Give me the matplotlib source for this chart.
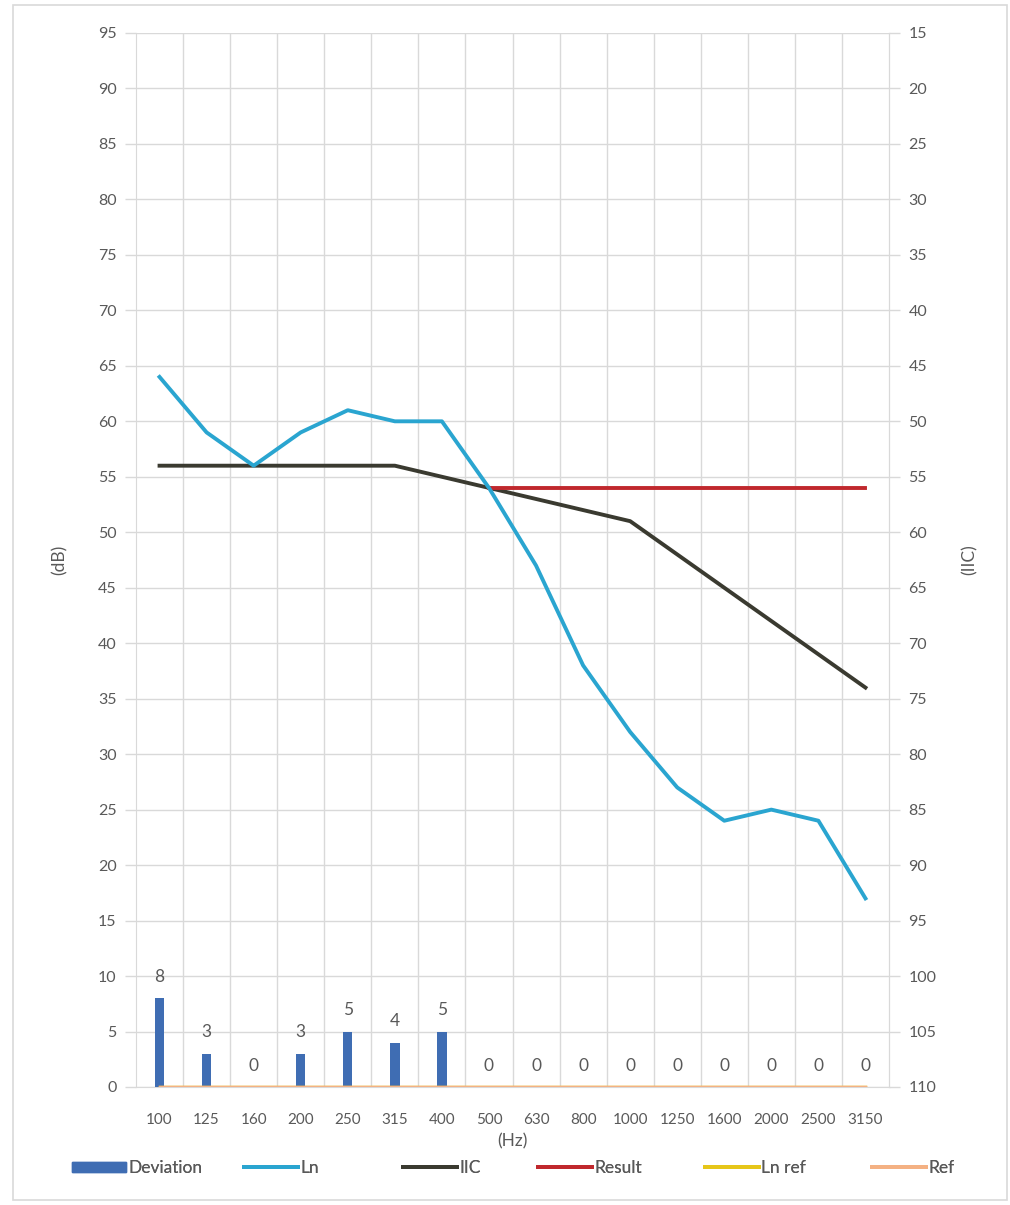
import matplotlib
matplotlib.use("Agg")
import matplotlib.pyplot as plt
from matplotlib.patches import Rectangle
from matplotlib.lines import Line2D
from matplotlib.patches import Patch
import numpy as np

plt.rcParams['font.family'] = ['Lato', 'DejaVu Sans']

freqs = ["100", "125", "160", "200", "250", "315", "400", "500", "630", "800",
         "1000", "1250", "1600", "2000", "2500", "3150"]
deviation = [8, 3, 0, 3, 5, 4, 5, 0, 0, 0, 0, 0, 0, 0, 0, 0]
ln = [64, 59, 56, 59, 61, 60, 60, 54, 47, 38, 32, 27, 24, 25, 24, 17]
iic = [56, 56, 56, 56, 56, 56, 55, 54, 53, 52, 51, 48, 45, 42, 39, 36]
result = [None] * 7 + [54] * 9
ln_ref = [0] * 16
ref = [0] * 16
left_ticks = list(range(0, 100, 5))
right_ticks = list(range(15, 115, 5))

TXT = "#595959"
GRID = "#D9D9D9"
C_DEV = "#3F6DB3"
C_LN = "#2AA5D0"
C_IIC = "#3A3A30"
C_RES = "#C0282D"
C_LNREF = "#E6C619"
C_REF = "#F4B183"

fig = plt.figure(figsize=(10.10, 12.05), dpi=100)
fig.patches.append(Rectangle((13 / 1010, 1 - 1200 / 1205), (1007 - 13) / 1010, (1200 - 5) / 1205,
                             transform=fig.transFigure, fill=False, edgecolor="#D9D9D9", lw=1.2))
ax = fig.add_axes([136 / 1010, 1 - 1087 / 1205, (889 - 136) / 1010, (1087 - 33) / 1205])
x = np.arange(len(freqs))

ax.set_xlim(-0.5, len(freqs) - 0.5)
ax.set_ylim(0, 95)
ax.set_yticks(left_ticks)
ax.set_xticks(x)
ax.set_xticklabels(freqs)
for b in np.arange(0.5, len(freqs) - 0.5, 1):
    ax.axvline(b, color=GRID, lw=1, zorder=0)
ax.yaxis.grid(True, color=GRID, lw=1, zorder=0)
ax.set_axisbelow(True)
ax.spines["top"].set_visible(False)
for s in ["left", "right", "bottom"]:
    ax.spines[s].set_color(GRID)
ax.tick_params(axis="y", colors=GRID, labelcolor=TXT, labelsize=11.5, length=8, width=1, pad=6)
ax.tick_params(axis="x", length=0, labelcolor=TXT, labelsize=11, pad=19)

ax.bar(x, deviation, width=0.2, color=C_DEV, zorder=3)
for xi, v in zip(x, deviation):
    ax.text(xi, v + 1.2, str(v), ha="center", va="bottom", color=TXT, fontsize=12.5, zorder=5)

ax.plot(x, ln_ref, color=C_LNREF, lw=2.5, zorder=4)
ax.plot(x, ref, color=C_REF, lw=2.5, zorder=4)
ax.plot(x, iic, color=C_IIC, lw=2.8, zorder=4)
res = np.array([np.nan if r is None else r for r in result], dtype=float)
ax.plot(x, res, color=C_RES, lw=2.8, zorder=4)
ax.plot(x, ln, color=C_LN, lw=2.8, zorder=5, solid_joinstyle="round")

ax.set_ylabel("(dB)", color=TXT, fontsize=12.5, labelpad=22)
ax.set_xlabel("(Hz)", color=TXT, fontsize=12.5, labelpad=4)

ax2 = ax.twinx()
ax2.set_ylim(110, 15)
ax2.set_yticks(right_ticks)
for s in ["top", "left", "bottom"]:
    ax2.spines[s].set_visible(False)
ax2.spines["right"].set_color(GRID)
ax2.tick_params(axis="y", colors=GRID, labelcolor=TXT, labelsize=11.5, length=8, width=1, pad=6)
ax2.set_ylabel("(IIC)", color=TXT, fontsize=12.5, labelpad=18, rotation=90)

handles = [Patch(color=C_DEV),
           Line2D([], [], color=C_LN, lw=2.8),
           Line2D([], [], color=C_IIC, lw=2.8),
           Line2D([], [], color=C_RES, lw=2.8),
           Line2D([], [], color=C_LNREF, lw=2.8),
           Line2D([], [], color=C_REF, lw=2.8)]
labels = ["Deviation", "Ln", "IIC", "Result", "Ln ref", "Ref"]
starts = [72, 244, 403, 538, 705, 872]
for h, l, sx in zip(handles, labels, starts):
    lg = fig.legend([h], [l], loc="center left", bbox_to_anchor=(sx / 1010, 1 - 1168 / 1205),
                    frameon=False, fontsize=12.5, handlelength=3.1, handletextpad=0.15,
                    labelcolor=TXT, handleheight=0.55, borderpad=0, borderaxespad=0)
    fig.add_artist(lg)

fig.savefig("out.png", dpi=100)
